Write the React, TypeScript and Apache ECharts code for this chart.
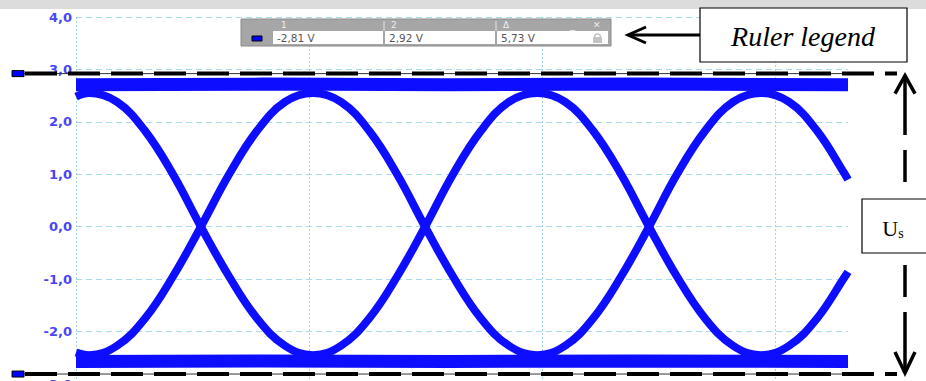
import React, { useEffect, useRef } from "react";
import * as echarts from "echarts";

// time positions in grid divisions
const timeDiv = [0, 0.056, 0.176, 0.296, 0.416, 0.536, 0.657, 0.777, 0.897, 1.017, 1.137, 1.258, 1.378, 1.498, 1.618, 1.738, 1.858, 1.979, 2.099, 2.219, 2.339, 2.459, 2.579, 2.7, 2.82, 2.94, 3.06, 3.18, 3.3, 3.313];
// trace starting high (falling first), volts
const traceFall = [2.48, 2.55, 2.38, 1.83, 1.0, 0.0, -0.95, -1.75, -2.27, -2.45, -2.27, -1.75, -0.95, 0.0, 1.0, 1.83, 2.38, 2.55, 2.38, 1.83, 1.0, 0.0, -0.95, -1.75, -2.27, -2.45, -2.27, -1.75, -0.95, -0.86];
// trace starting low (rising first), volts
const traceRise = [-2.4, -2.45, -2.27, -1.75, -0.95, 0.0, 1.0, 1.83, 2.38, 2.55, 2.38, 1.83, 1.0, 0.0, -0.95, -1.75, -2.27, -2.45, -2.27, -1.75, -0.95, 0.0, 1.0, 1.83, 2.38, 2.55, 2.38, 1.83, 1.0, 0.9];
// flat high / low levels
const railTime = [0, 0.8, 1.6, 2.4, 3.313];
const railHigh = [2.71, 2.72, 2.71, 2.72, 2.71];
const railLow = [-2.57, -2.56, -2.57, -2.56, -2.57];
// ruler cursors
const ruler1 = -2.81;
const ruler2 = 2.92;
const rulerDelta = 5.73;
const yTicks = { min: -3, max: 4, interval: 1 };
const xRange = { min: 0, max: 3.313, interval: 1 };

const fmt = (v: number) => v.toFixed(2).replace(".", ",");

export default function App() {
  const ref = useRef<HTMLDivElement>(null);
  useEffect(() => {
    if (!ref.current) return;
    const chart = echarts.init(ref.current, undefined, { renderer: "svg" });
    const blue = "#0d0dff";
    const pair = (xs: number[], ys: number[]) => xs.map((x, i) => [x, ys[i]]);
    chart.setOption({
      animation: false,
      backgroundColor: "#ffffff",
      grid: { left: 76, top: 17, width: 772, height: 367, containLabel: false, outerBoundsMode: "none" },
      xAxis: {
        type: "value",
        min: xRange.min,
        max: xRange.max,
        interval: xRange.interval,
        axisLine: { show: false },
        axisTick: { show: false },
        axisLabel: { show: false },
        splitLine: {
          show: true,
          showMaxLine: false,
          lineStyle: { color: "#9ed6e8", type: [2, 2], width: 1 },
        },
      },
      yAxis: {
        type: "value",
        min: yTicks.min,
        max: yTicks.max,
        interval: yTicks.interval,
        axisLine: { show: false },
        axisTick: { show: false },
        axisLabel: {
          color: "#4646f8",
          fontSize: 13,
          fontWeight: "bold",
          fontFamily: "DejaVu Sans",
          margin: 4,
          formatter: (v: number) => v.toFixed(1).replace(".", ","),
        },
        splitLine: {
          show: true,
          lineStyle: { color: "#a8dcec", type: [6, 4], width: 1 },
        },
      },
      series: [
        { type: "line", data: pair(railTime, railHigh), showSymbol: false, lineStyle: { color: blue, width: 13 }, z: 2 },
        { type: "line", data: pair(railTime, railLow), showSymbol: false, lineStyle: { color: blue, width: 13 }, z: 2 },
        { type: "line", data: pair(timeDiv, traceFall), smooth: 0.4, showSymbol: false, lineStyle: { color: blue, width: 8 }, z: 2 },
        { type: "line", data: pair(timeDiv, traceRise), smooth: 0.4, showSymbol: false, lineStyle: { color: blue, width: 8 }, z: 2 },
      ],
    });

    const yTop = chart.convertToPixel({ yAxisIndex: 0 }, ruler2) as number;
    const yBot = chart.convertToPixel({ yAxisIndex: 0 }, ruler1) as number;
    const xRight = chart.convertToPixel({ xAxisIndex: 0 }, xRange.max) as number;
    const ax = 905;
    const rulerLine = (y: number) => [
      { type: "line", shape: { x1: 24, y1: y, x2: xRight, y2: y }, style: { stroke: "#333", lineWidth: 1 }, z: 50 },
      { type: "line", shape: { x1: 25, y1: y, x2: 897, y2: y }, style: { stroke: "#000", lineWidth: 4, lineDash: [32, 11] }, z: 51 },
      { type: "rect", shape: { x: 12, y: y - 3, width: 12, height: 6 }, style: { fill: "#0000ff", stroke: "#000", lineWidth: 1 }, z: 52 },
    ];
    const seg = (y1: number, y2: number) => ({ type: "line", shape: { x1: ax, y1, x2: ax, y2 }, style: { stroke: "#000", lineWidth: 3.5 }, z: 60 });
    chart.setOption({
      graphic: [
        { type: "rect", shape: { x: 0, y: 0, width: 926, height: 9 }, style: { fill: "#dcdcdc" }, z: 0, silent: true },
        ...rulerLine(yTop),
        ...rulerLine(yBot),
        // ruler legend widget
        { type: "rect", shape: { x: 241, y: 19, width: 370, height: 27 }, style: { fill: "#a6a6a6", stroke: "#8a8a8a", lineWidth: 1 }, z: 70 },
        { type: "rect", shape: { x: 273, y: 31, width: 110, height: 13 }, style: { fill: "#ffffff" }, z: 71 },
        { type: "rect", shape: { x: 385, y: 31, width: 110, height: 13 }, style: { fill: "#ffffff" }, z: 71 },
        { type: "rect", shape: { x: 497, y: 31, width: 111, height: 13 }, style: { fill: "#ffffff" }, z: 71 },
        { type: "line", shape: { x1: 384, y1: 21, x2: 384, y2: 31 }, style: { stroke: "#e6e6e6", lineWidth: 1 }, z: 71 },
        { type: "line", shape: { x1: 496, y1: 21, x2: 496, y2: 31 }, style: { stroke: "#e6e6e6", lineWidth: 1 }, z: 71 },
        { type: "rect", shape: { x: 252, y: 36, width: 10, height: 5 }, style: { fill: "#0000ff", stroke: "#000", lineWidth: 1 }, z: 72 },
        { type: "text", x: 281, y: 25, style: { text: "1", fill: "#eeeeee", fontSize: 9, fontFamily: "DejaVu Sans", verticalAlign: "middle" }, z: 72 },
        { type: "text", x: 391, y: 25, style: { text: "2", fill: "#eeeeee", fontSize: 9, fontFamily: "DejaVu Sans", verticalAlign: "middle" }, z: 72 },
        { type: "text", x: 503, y: 25, style: { text: "Δ", fill: "#eeeeee", fontSize: 9, fontFamily: "DejaVu Sans", verticalAlign: "middle" }, z: 72 },
        { type: "text", x: 570, y: 24, style: { text: "_", fill: "#eeeeee", fontSize: 10, fontFamily: "DejaVu Sans", verticalAlign: "middle" }, z: 72 },
        { type: "text", x: 593, y: 25, style: { text: "✕", fill: "#eeeeee", fontSize: 9, fontFamily: "DejaVu Sans", verticalAlign: "middle" }, z: 72 },
        { type: "text", x: 277, y: 38, style: { text: fmt(ruler1) + " V", fill: "#555555", fontSize: 10.5, fontFamily: "DejaVu Sans", verticalAlign: "middle" }, z: 72 },
        { type: "text", x: 389, y: 38, style: { text: fmt(ruler2) + " V", fill: "#555555", fontSize: 10.5, fontFamily: "DejaVu Sans", verticalAlign: "middle" }, z: 72 },
        { type: "text", x: 501, y: 38, style: { text: fmt(rulerDelta) + " V", fill: "#555555", fontSize: 10.5, fontFamily: "DejaVu Sans", verticalAlign: "middle" }, z: 72 },
        { type: "rect", shape: { x: 593, y: 37, width: 9, height: 6 }, style: { fill: "#c4c4c4" }, z: 72 },
        { type: "arc", shape: { cx: 597.5, cy: 37, r: 3, startAngle: Math.PI, endAngle: 2 * Math.PI }, style: { stroke: "#c4c4c4", fill: "none", lineWidth: 1.5 }, z: 72 },
        // "Ruler legend" annotation
        { type: "rect", shape: { x: 700, y: 8, width: 207, height: 54 }, style: { fill: "#ffffff", stroke: "#000", lineWidth: 1.2 }, z: 80 },
        { type: "text", x: 803, y: 36, style: { text: "Ruler legend", fill: "#000", fontSize: 28, fontStyle: "italic", fontFamily: "Liberation Serif", align: "center", verticalAlign: "middle" }, z: 81 },
        { type: "line", shape: { x1: 628, y1: 35, x2: 700, y2: 35 }, style: { stroke: "#000", lineWidth: 3 }, z: 80 },
        { type: "polyline", shape: { points: [[646, 27], [628, 35], [646, 43]] }, style: { stroke: "#000", lineWidth: 3, fill: "none" }, z: 80 },
        // Us vertical dimension arrow
        seg(yTop + 2, 135),
        seg(150, 182),
        seg(265, 297),
        seg(312, yBot - 1),
        { type: "polyline", shape: { points: [[ax - 10, yTop + 20], [ax, yTop + 2], [ax + 10, yTop + 20]] }, style: { stroke: "#000", lineWidth: 3.5, fill: "none" }, z: 60 },
        { type: "polyline", shape: { points: [[ax - 10, yBot - 22], [ax, yBot - 1], [ax + 10, yBot - 22]] }, style: { stroke: "#000", lineWidth: 3.5, fill: "none" }, z: 60 },
        { type: "rect", shape: { x: 862, y: 199, width: 70, height: 54 }, style: { fill: "#ffffff", stroke: "#000", lineWidth: 1.2 }, z: 80 },
        {
          type: "text", x: 893, y: 228, z: 81,
          style: {
            text: "{u|U}{s|s}", align: "center", verticalAlign: "middle",
            rich: {
              u: { fontSize: 22, fontFamily: "Liberation Serif", fill: "#000" },
              s: { fontSize: 14, fontFamily: "Liberation Serif", fill: "#000", padding: [10, 0, 0, 0] },
            },
          },
        },
      ],
    });
    return () => chart.dispose();
  }, []);
  return <div ref={ref} style={{ position: "fixed", left: 0, top: 0, width: 926, height: 381 }} />;
}
